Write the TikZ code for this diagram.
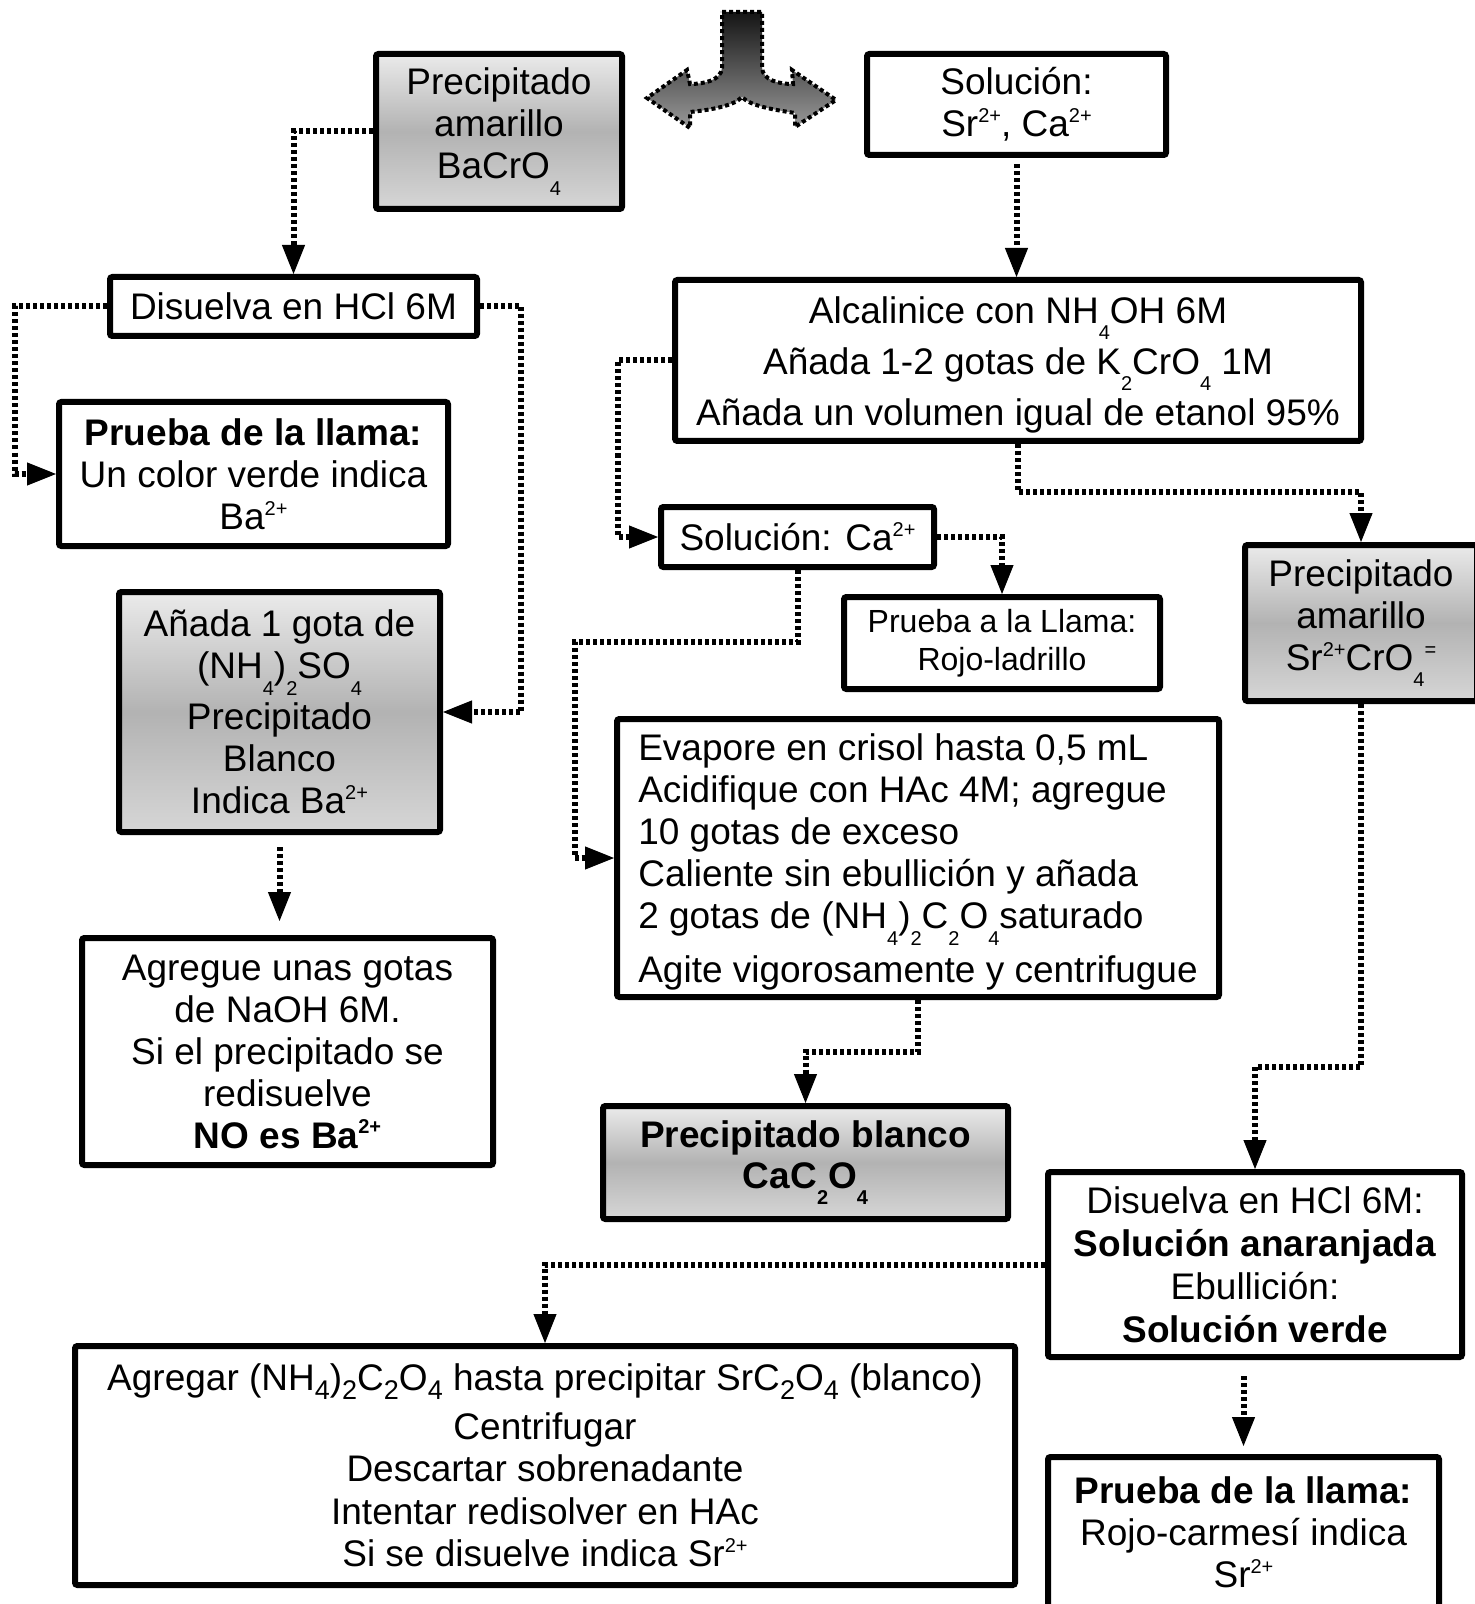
\documentclass[tikz,border=0pt]{standalone}
\usepackage{fontspec}
\setmainfont{Liberation Sans}
\usetikzlibrary{arrows.meta}

% chemical indices: raised charge, dropped index (smashed or not), ordinary subscript
\newcommand\up[1]{\raisebox{0.38em}{\fontsize{10}{10}\selectfont #1}}
\newcommand\dnd[1]{\raisebox{-0.45em}{\fontsize{10}{10}\selectfont #1}}
\newcommand\dn[1]{\smash{\dnd{#1}}}
\newcommand\sbp[1]{\raisebox{-0.22em}{\fontsize{13.5}{13.5}\selectfont #1}}
% taller first line, to lower a text block a little inside its box
\newcommand\tallline{\rule{0pt}{17.5pt}}

\begin{document}
\begin{tikzpicture}[x=0.5pt, y=-0.5pt,
  box/.style={draw=black, line width=3pt, rounded corners=1.2pt, fill=white,
    align=center, inner sep=0pt, font=\fontsize{18.5}{21}\selectfont},
  shadebox/.style={box, top color=black!8, bottom color=black!16, middle color=black!30},
  link/.style={line width=3pt, dash pattern=on 2pt off 1.5pt,
    -{Triangle[length=14.5pt, width=11.5pt, line width=0.5pt]}},
  yarrow/.style={draw=black, line width=2pt, dash pattern=on 2pt off 1.5pt,
    top color=black!92, bottom color=black!40},
]
\useasboundingbox (0,0) rectangle (1475,1604);
\clip (0,0) rectangle (1475,1604);

% split arrow at the top
\path[yarrow] (722,12) -- (762,12) -- (762,68)
  .. controls (763,80) and (778,84) .. (793,84)
  -- (792,70) -- (836,100) -- (795,127) -- (795,113)
  .. controls (775,110) and (750,106) .. (742,97)
  .. controls (734,106) and (710,110) .. (690,112)
  -- (690,128) -- (647,98) -- (687,70) -- (690,84)
  .. controls (705,84) and (721,80) .. (722,68) -- cycle;

% boxes
\node[shadebox, minimum width=123pt, minimum height=77.5pt] (B1) at (499,131.5)
  {Precipitado\\amarillo\\BaCrO\dnd{4}};
\node[box, minimum width=149.5pt, minimum height=50.5pt] (B2) at (1016.5,104.5)
  {Solución:\\Sr\up{2+}, Ca\up{2+}};
\node[box, minimum width=183.5pt, minimum height=29.5pt] (D1) at (293.5,306.5)
  {Disuelva en HCl 6M};
\node[box, minimum width=194.5pt, minimum height=72pt] (PB) at (253.5,474)
  {\textbf{Prueba de la llama:}\\Un color verde indica\\Ba\up{2+}};
\node[shadebox, minimum width=160.5pt, minimum height=120pt] (AB) at (279.5,712)
  {Añada 1 gota de\\(NH\dn{4})\dn{2}SO\dn{4}\\[4.5pt]Precipitado\\Blanco\\Indica Ba\up{2+}};
\node[box, minimum width=205.5pt, minimum height=113.5pt] (AG) at (287.5,1051.5)
  {Agregue unas gotas\\de NaOH 6M.\\Si el precipitado se\\redisuelve\\\textbf{NO es Ba\up{2+}}};
\node[box, minimum width=343pt, minimum height=80.5pt] (AL) at (1018,360.5)
  {\tallline Alcalinice con NH\dn{4}OH 6M\\[4.5pt]Añada 1-2 gotas de K\dn{2}CrO\dn{4} 1M\\[4.5pt]Añada un volumen igual de etanol 95\%};
\node[box, minimum width=136.5pt, minimum height=30pt] (SC) at (797.5,537)
  {Solución: Ca\up{2+}};
\node[shadebox, minimum width=116pt, minimum height=78pt] (PS) at (1361,623)
  {Precipitado\\amarillo\\Sr\up{2+}CrO\dnd{4}\up{=}};
\node[box, minimum width=158pt, minimum height=46pt, font=\fontsize{16}{18.75}\selectfont] (PC) at (1002,643)
  {Prueba a la Llama:\\Rojo-ladrillo};
\node[box, align=left, minimum width=301pt, minimum height=139pt] (EV) at (918,858)
  {\tallline Evapore en crisol hasta 0,5 mL\\Acidifique con HAc 4M; agregue\\10 gotas de exceso\\Caliente sin ebullición y añada\\2 gotas de (NH\dn{4})\dn{2}C\dn{2}O\dn{4}saturado\\[6pt]Agite vigorosamente y centrifugue};
\node[shadebox, minimum width=202.5pt, minimum height=56.5pt, font=\bfseries\fontsize{18.5}{20.5}\selectfont] (PCa) at (805.5,1162.5)
  {Precipitado blanco\\CaC\dnd{2}O\dnd{4}};
\node[box, minimum width=207pt, minimum height=92.5pt, font=\fontsize{18.5}{21.5}\selectfont] (DS) at (1255,1264.5)
  {Disuelva en HCl 6M:\\\textbf{Solución anaranjada}\\Ebullición:\\\textbf{Solución verde}};
\node[box, minimum width=470pt, minimum height=119.5pt, font=\fontsize{18.5}{21.2}\selectfont] (AS) at (545,1465.5)
  {Agregar (NH\sbp{4})\sbp{2}C\sbp{2}O\sbp{4} hasta precipitar SrC\sbp{2}O\sbp{4} (blanco)\\[3pt]Centrifugar\\Descartar sobrenadante\\Intentar redisolver en HAc\\Si se disuelve indica Sr\up{2+}};
\node[box, minimum width=195.5pt, minimum height=75pt] (PSr) at (1243.5,1532)
  {\textbf{Prueba de la llama:}\\Rojo-carmesí indica\\Sr\up{2+}};

% connectors
\draw[link] (B1.west) -| (D1.north);
\draw[link] (D1.west) -- ++(-92,0) |- (PB.west);
\draw[link] (D1.east) -- ++(41,0) |- (AB.east);
\draw[link, shorten <=6pt, shorten >=7pt] (AB.south) -- (AB.south |- AG.north);
\draw[link, shorten <=3pt] (B2.south) -- (B2.south |- AL.north);
\draw[link] (AL.west) -- ++(-54,0) |- (SC.west);
\draw[link] (AL.south) -- ++(0,48) -| (PS.north);
\draw[link] (SC.east) -| (PC.north);
\draw[link] (SC.south) -- ++(0,72) -- ++(-223,0) |- (EV.west);
\draw[link] (EV.south) -- ++(0,52) -| (PCa.north);
\draw[link] (PS.south) -- ++(0,363) -| (DS.north);
\draw[link] (DS.west) -| (AS.north);
\draw[link, shorten <=8pt, shorten >=4pt] (PSr.north |- DS.south) -- (PSr.north);
\end{tikzpicture}
\end{document}
